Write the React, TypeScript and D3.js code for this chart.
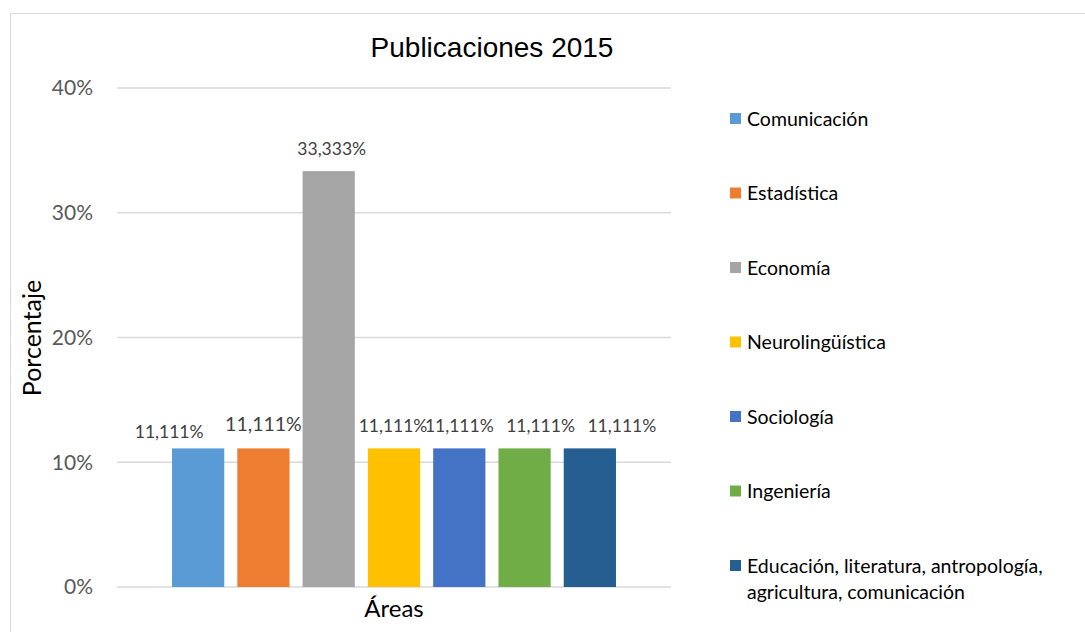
import React from "react";
import * as d3 from "d3";

const series = [
  "Comunicación",
  "Estadística",
  "Economía",
  "Neurolingüística",
  "Sociología",
  "Ingeniería",
  "Educación, literatura, antropología, agricultura, comunicación",
];
const values = [0.11111, 0.11111, 0.33333, 0.11111, 0.11111, 0.11111, 0.11111];
const valueLabels = ["11,111%", "11,111%", "33,333%", "11,111%", "11,111%", "11,111%", "11,111%"];
const colors = ["#5B9BD5", "#ED7D31", "#A5A5A5", "#FFC000", "#4472C4", "#70AD47", "#255E91"];
const yTicks = [0, 0.1, 0.2, 0.3, 0.4];
const legendLines = [
  ["Comunicación"],
  ["Estadística"],
  ["Economía"],
  ["Neurolingüística"],
  ["Sociología"],
  ["Ingeniería"],
  ["Educación, literatura, antropología,", "agricultura, comunicación"],
];
// manual label placement offsets (dx, dy, size) as in the original
const labelDx = [-29, 0, 3, -1, 0, 16, 32];
const labelDy = [6, -1.2, 0, 0, 0, 0, 0];
const labelSize = [17.5, 19.5, 17.5, 17.5, 17.5, 17.5, 17.5];

const W = 1085;
const H = 632;
const plot = { left: 117, right: 671, top: 88, bottom: 587 };
const font = "Lato, 'Open Sans', sans-serif";

export default function App() {
  const y = d3.scaleLinear().domain([0, 0.4]).range([plot.bottom, plot.top]);
  const x = d3
    .scaleBand<string>()
    .domain(series)
    .range([165.5, 622.5])
    .paddingInner(0.2)
    .paddingOuter(0.1);
  const fmt = d3.format(".0%");
  const legendY = d3.scaleLinear().domain([0, 6]).range([119, 566]);

  return (
    <svg
      width={W}
      height={H}
      style={{ position: "absolute", left: 0, top: 0, background: "#fff" }}
    >
      <rect x={0} y={0} width={W} height={H} fill="#fff" />
      <rect x={10.5} y={13.5} width={W + 20} height={H + 20} fill="#fff" stroke="#D9D9D9" strokeWidth={1} />
      <text
        x={492}
        y={57}
        textAnchor="middle"
        fontFamily="'Liberation Sans', Arial, sans-serif"
        fontSize={28}
        fill="#000"
      >
        Publicaciones 2015
      </text>
      {yTicks.map((t) => (
        <g key={t}>
          <line
            x1={plot.left}
            x2={plot.right}
            y1={y(t)}
            y2={y(t)}
            stroke="#D9D9D9"
            strokeWidth={1.3}
          />
          <text
            x={93}
            y={y(t)}
            dy="0.35em"
            textAnchor="end"
            fontFamily={font}
            fontSize={21}
            fill="#595959"
          >
            {fmt(t)}
          </text>
        </g>
      ))}
      {series.map((s, i) => (
        <rect
          key={s}
          x={x(s)}
          y={y(values[i])}
          width={x.bandwidth()}
          height={y(0) - y(values[i])}
          fill={colors[i]}
        />
      ))}
      {series.map((s, i) => (
        <text
          key={s + "l"}
          x={(x(s) as number) + x.bandwidth() / 2 + labelDx[i]}
          y={y(values[i]) - 16.5 + labelDy[i]}
          textAnchor="middle"
          fontFamily={font}
          fontSize={labelSize[i]}
          fill="#404040"
        >
          {valueLabels[i]}
        </text>
      ))}
      <text
        transform={`translate(41,338) rotate(-90)`}
        textAnchor="middle"
        fontFamily={font}
        fontSize={25}
        fill="#000"
      >
        Porcentaje
      </text>
      <text
        x={394}
        y={617}
        textAnchor="middle"
        fontFamily={font}
        fontSize={24}
        fill="#000"
      >
        Áreas
      </text>
      {legendLines.map((lines, i) => (
        <g key={i} transform={`translate(730,${legendY(i)})`}>
          <rect x={0} y={-6} width={11} height={11} fill={colors[i]} />
          {lines.map((ln, j) => (
            <text
              key={j}
              x={17}
              y={j * 26}
              dy="0.35em"
              fontFamily={font}
              fontSize={19.5}
              fill="#000"
            >
              {ln}
            </text>
          ))}
        </g>
      ))}
    </svg>
  );
}
